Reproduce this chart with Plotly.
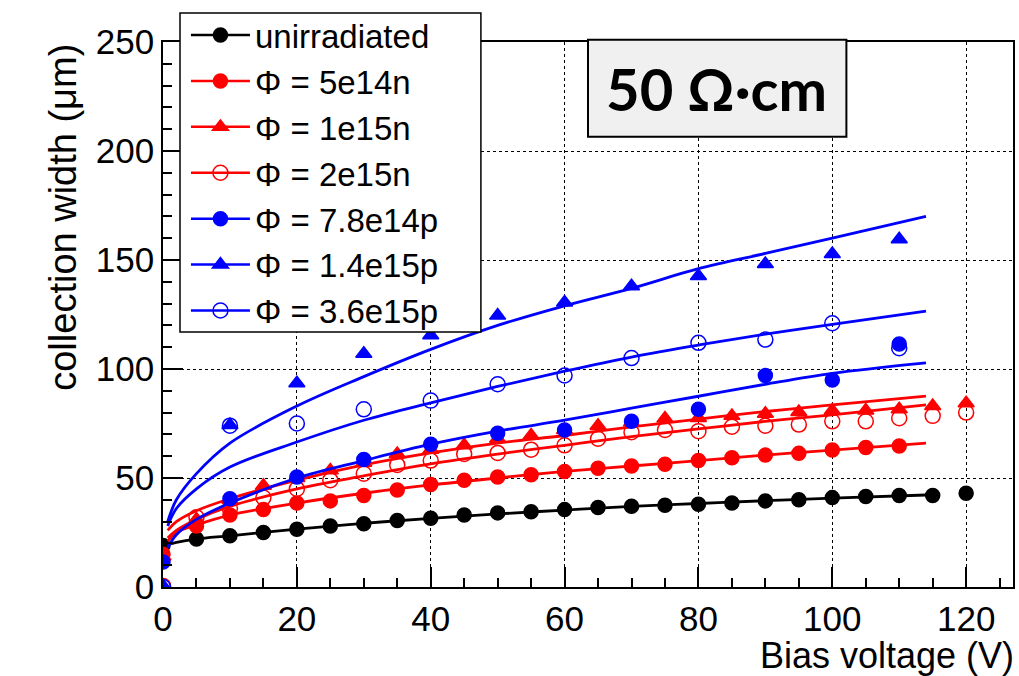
import plotly.graph_objects as go

# ---- measured collection width (um) vs bias voltage (V) ----
V_UNIRR = [0, 5, 10, 15, 20, 25, 30, 35, 40, 45, 50, 55, 60, 65, 70, 75, 80, 85, 90, 95, 100, 105, 110, 115, 120]
W_UNIRR = [19, 22, 23.5, 25, 26.5, 28, 29, 30.5, 31.5, 33, 34, 34.5, 35.5, 36.5, 37, 37.5, 38, 38.5, 39.5, 40, 41, 41.5, 42, 42, 43]

V_5E14N = [0, 5, 10, 15, 20, 25, 30, 35, 40, 45, 50, 55, 60, 65, 70, 75, 80, 85, 90, 95, 100, 105, 110]
W_5E14N = [15, 28, 33, 35.5, 38.5, 39.5, 42, 44.5, 47, 49, 50.5, 51.5, 53, 54.5, 55.5, 56.3, 58, 59.3, 60.5, 61.3, 62.8, 64, 64.7]

V_1E15N = [0, 5, 10, 15, 20, 25, 30, 35, 40, 45, 50, 55, 60, 65, 70, 75, 80, 85, 90, 95, 100, 105, 110, 115, 120]
W_1E15N = [14, 31, 40, 46.5, 50, 53.5, 57, 61, 63, 65, 68, 69.5, 72, 74, 75.5, 77.3, 77.5, 78.5, 79.5, 80.3, 81, 81, 81.5, 83, 84.3]

V_2E15N = [0, 5, 10, 15, 20, 25, 30, 35, 40, 45, 50, 55, 60, 65, 70, 75, 80, 85, 90, 95, 100, 105, 110, 115, 120]
W_2E15N = [0.5, 32, 36, 41, 45, 49, 52, 56, 58, 61, 61.5, 63, 65, 68, 71, 72, 71.5, 73.5, 74, 74.5, 76, 76, 77.4, 78.5, 80]

V_78E14P = [0, 10, 20, 30, 40, 50, 60, 70, 80, 90, 100, 110]
W_78E14P = [11.5, 40.5, 50.5, 58.5, 65.5, 70.5, 72, 76, 81.5, 97, 95, 111.5]

V_14E15P = [0, 10, 20, 30, 40, 50, 60, 70, 80, 90, 100, 110]
W_14E15P = [0.5, 74.3, 93.5, 107, 115.5, 124.5, 130.5, 138, 142.7, 148.2, 152.8, 159.5]

V_36E15P = [0, 10, 20, 30, 40, 50, 60, 70, 80, 90, 100, 110]
W_36E15P = [0, 74, 75, 81.5, 85.5, 93, 97, 105, 112, 113.5, 121, 109.5]

# ---- fitted curves, tabulated at these bias voltages ----
FIT_V = [0.7, 2, 5, 10, 20, 30, 40, 50, 60, 70, 80, 90, 100, 114]
FIT_UNIRR = [19.5, 20.5, 22, 23.5, 26.5, 29.2, 31.5, 33.5, 35.3, 37, 38.3, 39.6, 40.8, 42.2]
FIT_5E14N = [21, 25, 28.5, 33, 38.5, 43, 46.8, 50, 53, 55.5, 58, 60.5, 62.8, 66]
FIT_1E15N = [26, 30, 35, 40.5, 49, 56, 61.5, 66, 69.5, 73.5, 77, 80.5, 83.5, 87.6]
FIT_2E15N = [22.5, 26, 31, 37, 45, 51, 56.5, 61, 65, 69, 72.5, 76, 79, 83.5]
FIT_78E14P = [18, 24, 31, 38.5, 50, 58, 65.5, 71.5, 76.5, 82, 87.5, 93, 98, 102.8]
FIT_14E15P = [30, 40, 52, 66, 83, 96.5, 109, 120, 129, 137, 146, 153, 160, 170]
FIT_36E15P = [28, 36, 45, 55, 66.5, 76.5, 84.5, 92, 99, 105.5, 111, 116, 120.5, 126.5]

LABELS = ["unirradiated", "Φ = 5e14n", "Φ = 1e15n", "Φ = 2e15n",
          "Φ = 7.8e14p", "Φ = 1.4e15p", "Φ = 3.6e15p"]

BLACK, RED, BLUE = "#000000", "#ff0000", "#0000ff"

series = [
    (LABELS[0], V_UNIRR, W_UNIRR, FIT_UNIRR, BLACK, "circle", 14),
    (LABELS[1], V_5E14N, W_5E14N, FIT_5E14N, RED, "circle", 14),
    (LABELS[2], V_1E15N, W_1E15N, FIT_1E15N, RED, "triangle-up", 14),
    (LABELS[3], V_2E15N, W_2E15N, FIT_2E15N, RED, "circle-open", 15),
    (LABELS[4], V_78E14P, W_78E14P, FIT_78E14P, BLUE, "circle", 14),
    (LABELS[5], V_14E15P, W_14E15P, FIT_14E15P, BLUE, "triangle-up", 14),
    (LABELS[6], V_36E15P, W_36E15P, FIT_36E15P, BLUE, "circle-open", 15),
]

fig = go.Figure()

for i, (name, vx, wy, fy, col, sym, sz) in enumerate(series):
    marker = dict(symbol=sym, size=sz, color=col, line=dict(color=col, width=1.5))
    fig.add_trace(go.Scatter(x=FIT_V, y=fy, mode="lines", line=dict(color=col, width=2.8, shape="spline"),
                             showlegend=False, hoverinfo="skip"))
    fig.add_trace(go.Scatter(x=vx, y=wy, mode="markers", marker=marker, showlegend=False, name=name))
    # legend entry: line with marker
    fig.add_trace(go.Scatter(x=[None], y=[None], mode="lines+markers", name=name,
                             line=dict(color=col, width=2.5), marker=marker,
                             legendgroup=f"g{i}", showlegend=True))

axis_common = dict(
    showline=True, linecolor="black", linewidth=1.5, mirror=True,
    ticks="inside", ticklen=20, tickwidth=1.5, tickcolor="black",
    showgrid=True, gridcolor="black", griddash="dot", gridwidth=1,
    zeroline=False,
    tickfont=dict(family="Liberation Sans", size=35, color="black"),
)

fig.update_xaxes(range=[0, 127], dtick=20, tick0=0,
                 minor=dict(dtick=5, ticks="inside", ticklen=9, tickcolor="black", showgrid=False),
                 **axis_common)
fig.update_yaxes(range=[0, 250], dtick=50, tick0=0,
                 minor=dict(dtick=10, ticks="inside", ticklen=9, tickcolor="black", showgrid=False),
                 **axis_common)

fig.update_layout(
    width=1019, height=676,
    margin=dict(l=163, r=4, t=42, b=89),
    paper_bgcolor="white", plot_bgcolor="white",
    font=dict(family="Liberation Sans", color="black"),
    showlegend=True,
    legend=dict(x=0.027, y=1.064, xanchor="left", yanchor="top",
                bgcolor="rgba(0,0,0,0)", borderwidth=0,
                font=dict(family="Liberation Sans", size=33, color="black"),
                tracegroupgap=0, itemwidth=59),
    shapes=[
        # legend frame
        dict(type="rect", xref="paper", yref="paper", x0=0.020, x1=0.374, y0=0.468, y1=1.053,
             fillcolor="white", line=dict(color="black", width=1.5), layer="above"),
        # resistivity label frame
        dict(type="rect", xref="paper", yref="paper", x0=0.5, x1=0.804, y0=0.826, y1=1.004,
             fillcolor="#f0f0f0", line=dict(color="black", width=2), layer="above"),
    ],
    annotations=[
        dict(text="<b>50 Ω·cm</b>", xref="paper", yref="paper", x=0.651, y=0.914,
             xanchor="center", yanchor="middle", showarrow=False,
             font=dict(family="Lato", size=58, color="black")),
        dict(text="Bias voltage (V)", xref="paper", yref="paper", x=1.003, y=-0.1262,
             xanchor="right", yanchor="middle", showarrow=False,
             font=dict(family="Liberation Sans", size=36, color="black")),
        dict(text="collection width (μm)", xref="paper", yref="paper", x=-0.1185, y=1.0,
             xanchor="center", yanchor="top", textangle=-90, showarrow=False,
             font=dict(family="Liberation Sans", size=38, color="black")),
    ],
)

fig.write_html("out.html")
